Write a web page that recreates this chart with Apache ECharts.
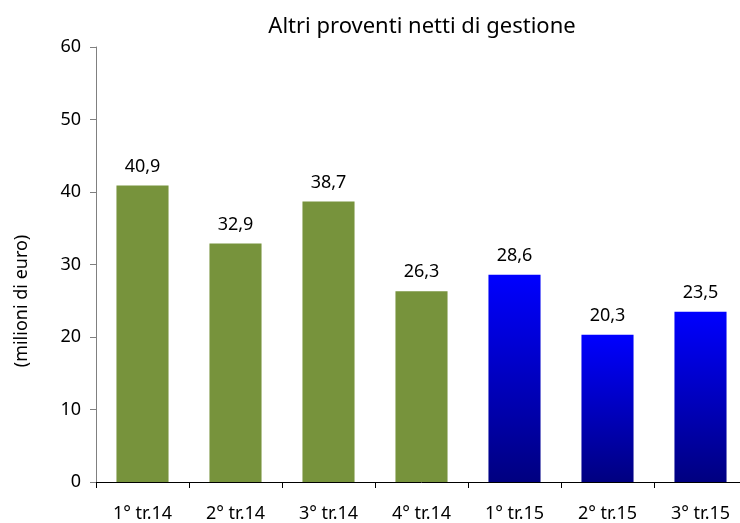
<!DOCTYPE html>
<html>
<head>
<meta charset="utf-8">
<script src="https://cdn.jsdelivr.net/npm/echarts@6/dist/echarts.min.js"></script>
<style>
html, body { margin: 0; padding: 0; background: #fff; overflow: hidden; }
#chart { width: 747px; height: 523px; }
</style>
</head>
<body>
<div id="chart"></div>
<script>
var categories = ['1° tr.14', '2° tr.14', '3° tr.14', '4° tr.14', '1° tr.15', '2° tr.15', '3° tr.15'];
var values = [40.9, 32.9, 38.7, 26.3, 28.6, 20.3, 23.5];
var blueFrom = 4; // quarters of 2015 drawn in blue

var font = 'Noto Sans';
var green = '#77933C';
var blue = new echarts.graphic.LinearGradient(0, 0, 0, 1, [
    { offset: 0, color: '#0000FF' },
    { offset: 1, color: '#000080' }
]);

var chart = echarts.init(document.getElementById('chart'));
var option = {
    animation: false,
    textStyle: { fontFamily: font },
    title: {
        text: 'Altri proventi netti di gestione',
        left: 417,
        textAlign: 'center',
        top: 11,
        textStyle: { fontFamily: font, fontSize: 22, fontWeight: 'normal', color: '#000' }
    },
    grid: { left: 96, right: 0, top: 47, bottom: 38, containLabel: false },
    xAxis: {
        type: 'category',
        data: categories,
        axisLine: { lineStyle: { color: '#000', width: 1 } },
        axisTick: { show: true, length: 6, lineStyle: { color: '#000' } },
        axisLabel: { fontFamily: font, fontSize: 18, color: '#000', margin: 23, interval: 0 }
    },
    yAxis: {
        type: 'value',
        min: 0,
        max: 60,
        interval: 10,
        splitLine: { show: false },
        axisLine: { show: true, lineStyle: { color: '#808080' } },
        axisTick: { show: true, length: 6, lineStyle: { color: '#808080' } },
        axisLabel: { fontFamily: font, fontSize: 18, color: '#000', margin: 15 }
    },
    graphic: [{
        type: 'text',
        x: 22,
        y: 301,
        rotation: Math.PI / 2,
        style: {
            text: '(milioni di euro)',
            fontFamily: font,
            fontSize: 18,
            fill: '#000',
            align: 'center',
            verticalAlign: 'middle'
        }
    }],
    series: [{
        type: 'bar',
        barWidth: '56%',
        data: values.map(function (v, i) {
            return { value: v, itemStyle: { color: i >= blueFrom ? blue : green } };
        }),
        label: {
            show: true,
            position: 'top',
            distance: 10,
            fontFamily: font,
            fontSize: 18,
            color: '#000',
            formatter: function (p) { return p.value.toFixed(1).replace('.', ','); }
        }
    }]
};
chart.setOption(option);
</script>
</body>
</html>
